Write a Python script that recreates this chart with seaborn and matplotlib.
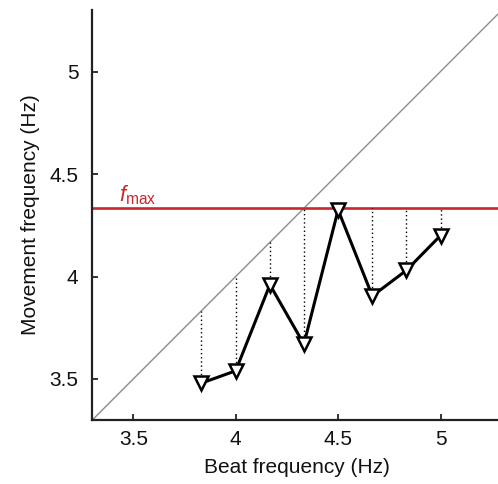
import matplotlib
matplotlib.use("Agg")
import matplotlib.pyplot as plt
import seaborn as sns
import numpy as np
import pandas as pd

beat_freq = [3.833, 4.0, 4.167, 4.333, 4.5, 4.667, 4.833, 5.0]
move_freq = [3.48, 3.54, 3.96, 3.67, 4.325, 3.905, 4.03, 4.20]
f_max = 4.333
x_ticks = [3.5, 4, 4.5, 5]
y_ticks = [3.5, 4, 4.5, 5]
x_tick_labels = ["3.5", "4", "4.5", "5"]
y_tick_labels = ["3.5", "4", "4.5", "5"]

sns.set_theme(style="ticks")
plt.rcParams["font.family"] = ["Liberation Sans", "DejaVu Sans"]
plt.rcParams["mathtext.fontset"] = "custom"
plt.rcParams["mathtext.rm"] = "Liberation Sans"
plt.rcParams["mathtext.it"] = "Liberation Sans:italic"

fig = plt.figure(figsize=(4.98, 4.84), dpi=100)
ax = fig.add_axes([92.3 / 498, 64 / 484, 409.7 / 498, 410 / 484])

df = pd.DataFrame({"beat": beat_freq, "move": move_freq})

# diagonal
ax.plot([3.3, 5.3], [3.3, 5.3], color="#8c8c8c", lw=1.0, zorder=1)
# f_max line
ax.axhline(f_max, color="#c8282d", lw=1.9, zorder=2)
# dotted connectors
tops = [min(b, f_max) for b in beat_freq]
ax.vlines(beat_freq, move_freq, tops, colors="black", linestyles=(0, (1, 2)), lw=1.0, zorder=2)

sns.lineplot(data=df, x="beat", y="move", ax=ax, color="black", lw=2.2,
             marker="v", markersize=9.5, markerfacecolor="white",
             markeredgecolor="black", markeredgewidth=1.8, zorder=5)

ax.text(3.43, 4.34, r"$f_{\mathrm{max}}$", color="#c8282d", fontsize=16,
        ha="left", va="bottom")

ax.set_xlim(3.3, 5.3)
ax.set_ylim(3.3, 5.3)
ax.set_xticks(x_ticks)
ax.set_xticklabels(x_tick_labels)
ax.set_yticks(y_ticks)
ax.set_yticklabels(y_tick_labels)
ax.tick_params(direction="in", length=4, width=1.2, labelsize=15, colors="#111111")
ax.tick_params(axis="y", pad=10)
ax.tick_params(axis="x", pad=7)
ax.set_xlabel("Beat frequency (Hz)", fontsize=15, labelpad=7, color="#111111")
ax.set_ylabel("Movement frequency (Hz)", fontsize=15, labelpad=7, color="#111111")

sns.despine(ax=ax)
for s in ["left", "bottom"]:
    ax.spines[s].set_linewidth(1.6)
    ax.spines[s].set_color("#222222")

fig.savefig("out.png", dpi=100)
